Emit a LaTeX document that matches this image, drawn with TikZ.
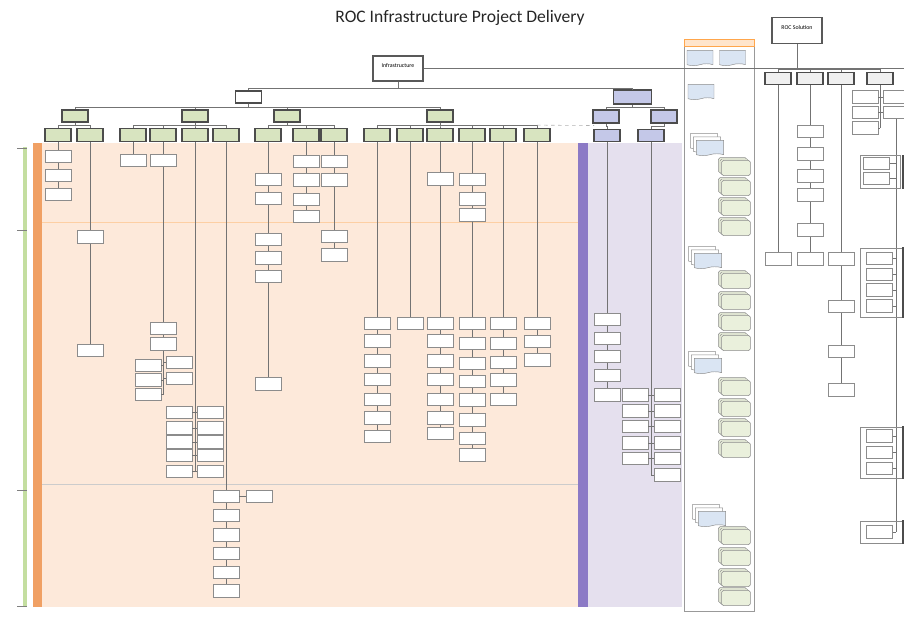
\documentclass[tikz,border=0pt]{standalone}
\usepackage{fontspec}
\setmainfont{Carlito}
\usepackage{xcolor}
\definecolor{rocpeach}{RGB}{253,233,218}
\definecolor{rocorange}{RGB}{240,160,100}
\definecolor{roclime}{RGB}{216,228,192}
\definecolor{rocsvc}{RGB}{196,200,232}
\definecolor{roclilac}{RGB}{229,224,238}
\definecolor{rocviolet}{RGB}{140,122,198}
\definecolor{rocblue}{RGB}{218,229,243}
\definecolor{rocsage}{RGB}{234,240,220}
\definecolor{rocgreen}{RGB}{196,222,160}
\usepackage{tikz}
\usetikzlibrary{shapes.symbols,shadows,positioning}

\begin{document}
\begin{tikzpicture}[x=0.03cm, y=-0.03cm,
    leaf/.style={rectangle, draw=black!45, fill=white, line width=0.6pt,
                 minimum width=0.78cm, minimum height=0.38cm, inner sep=0pt},
    hdr/.style={rectangle, draw=black!70, fill=roclime, line width=0.9pt,
                minimum width=0.78cm, minimum height=0.38cm, inner sep=0pt},
    svc/.style={hdr, fill=rocsvc},
    rocbox/.style={hdr, fill=black!6},
    rootbox/.style={rectangle, draw=black!65, fill=white, line width=1pt,
                    minimum width=1.5cm, minimum height=0.75cm, text depth=0.2cm,
                    font=\fontsize{5}{6}\selectfont},
    link/.style={draw=black!55, line width=0.5pt},
    doc/.style={tape, tape bend top=none, tape bend height=1.6pt, draw=black!45, fill=rocblue,
                minimum width=0.78cm, minimum height=0.46cm, inner sep=0pt},
    mdoc/.style={doc, minimum width=0.82cm,
                 copy shadow={shadow xshift=-0.18cm, shadow yshift=0.2cm, draw=black!45, fill=white},
                 copy shadow={shadow xshift=-0.09cm, shadow yshift=0.1cm, draw=black!45, fill=white}},
    pile/.style={rectangle, rounded corners=1.5pt, draw=black!45, fill=rocsage,
                 minimum width=0.86cm, minimum height=0.46cm, inner sep=0pt,
                 copy shadow={shadow xshift=-0.1cm, shadow yshift=0.08cm, draw=black!45, fill=rocsage},
                 copy shadow={shadow xshift=-0.05cm, shadow yshift=0.04cm, draw=black!45, fill=rocsage}}
  ]
  \useasboundingbox (0,0) rectangle (904,631);

  % bands behind the tree
  \fill[rocpeach] (42,143) rectangle (578,607);
  \fill[rocorange] (33,143) rectangle (42,607);
  \fill[rocviolet] (578,143) rectangle (588,607);
  \fill[roclilac] (588,143) rectangle (682,607);
  \draw[rocpeach!75!orange, line width=0.4pt] (42,222) -- (578,222);
  \draw[black!20, line width=0.4pt] (42,484.5) -- (578,484.5);
  \fill[rocgreen] (23,147) rectangle (27,607);
  \foreach \y in {148,230,490,606}
    \draw[black!50, line width=0.4pt] (17,\y) -- (27,\y);

  % side panel
  \draw[black!40, fill=white, line width=0.5pt] (684,39) rectangle (754,611);
  \draw[orange!70, fill=orange!20, line width=0.5pt] (684,39) rectangle (754,46);

  % title and roots
  \node[font=\fontsize{15}{18}\selectfont, text=black!85] (title) at (460,18) {ROC Infrastructure Project Delivery};
  \node[rootbox] (infra) at (398,68.5) {Infrastructure};
  \node[rootbox, minimum height=0.78cm] (rocsol) at (797,30.5) {ROC Solution};
  \node[hdr, fill=white, minimum height=0.36cm] (prop) at (248.5,97) {};
  \node[svc, minimum width=1.15cm, minimum height=0.42cm] (svcm) at (632.5,97) {};
  \draw[link] (infra.south) -- ++(0,7) -| (prop.north);
  \draw[link] (infra.south) -- ++(0,7) -| (svcm.north);
  \coordinate (rocedge) at (904,68.5);
  \draw[link] (infra.east) -- (rocedge);

  % second row
  \foreach \x in {75,195,287,440} {
    \node[hdr, minimum height=0.36cm] (p\x) at (\x,116) {};
    \draw[link] (prop.south) -- ++(0,4) -| (p\x.north);
  }
  \foreach \x in {606,664} {
    \node[svc, minimum height=0.39cm] (s\x) at (\x,116.5) {};
    \draw[link] (svcm.south) -- ++(0,2.5) -| (s\x.north);
  }

  % third row
  \foreach \p/\x in {75/58, 75/90, 195/133, 195/163, 195/195, 195/226,
                     287/268, 287/306, 287/334, 440/377, 440/410, 440/440,
                     440/472, 440/503, 440/537} {
    \node[hdr] (c\x-0) at (\x,135) {};
    \draw[link] (p\p.south) -- ++(0,3) -| (c\x-0.north);
  }
  \foreach \p/\x in {606/607, 664/651} {
    \node[svc] (c\x-0) at (\x,135.5) {};
    \draw[link] (s\p.south) -- ++(0,3) -| (c\x-0.north);
  }
  \coordinate (svcjoin) at (594,125.5);
  \draw[link, black!30, dashed] (c537-0.north) ++(0,-3) -- (svcjoin);

  % ROC solution row
  \foreach \x in {778,810,841,880} {
    \node[rocbox, minimum height=0.36cm] (c\x-0) at (\x,78.5) {};
    \draw[link] (rocsol.south) -- ++(0,25) -| (c\x-0.north);
  }

  % columns of leaves
  \foreach \x/\ys in {
      58/{156.5,175.5,194.5}, 90/{237,350.5}, 133/{160.5},
      163/{160.5,328.5,344}, 226/{496.5,515.5,535,553.5,572.5,591},
      268/{179.5,198.5,239.5,258,276.5,384}, 306/{161.5,180,199.5,216.5},
      334/{161.5,180,236.5,255}, 377/{323.5,341,361,379.5,399.5,418,436.5},
      410/{323.5}, 440/{179,323.5,341,361,379.5,399.5,418,433.5},
      472/{179.5,199,215,323.5,343.5,363.5,381.5,400,420,438.5,455},
      503/{323.5,343.5,362.5,380,399.5}, 537/{323.5,341.5,360},
      607/{319.5,338.5,356.5,375.5,395},
      778/{259}, 810/{131.5,154,176,195,230,259}, 841/{259,306.5,351.5,390}} {
    \foreach \y [count=\i, evaluate=\i as \j using int(\i-1)] in \ys {
      \node[leaf] (c\x-\i) at (\x,\y) {};
      \draw[link] (c\x-\j) -- (c\x-\i);
    }
  }
  \node[leaf] (k226-1) at (259,496.5) {};
  \draw[link] (c226-1) -- (k226-1);

  % side clusters
  \coordinate (c163-end) at (163,395);
  \draw[link] (c163-3) -- (c163-end);
  \foreach \x/\y [count=\i] in {148/365.5, 148/380, 148/394.5, 179/362.5, 179/378.5} {
    \node[leaf] (k163-\i) at (\x,\y) {};
    \draw[link] (k163-\i) -- (k163-\i -| c163-end);
  }
  \coordinate (c195-end) at (195,471.5);
  \draw[link] (c195-0) -- (c195-end);
  \foreach \x/\y [count=\i] in {179/412.5, 179/428, 179/442, 179/455.5, 179/471.5,
                                210/412.5, 210/428, 210/442, 210/455.5, 210/471.5} {
    \node[leaf] (k195-\i) at (\x,\y) {};
    \draw[link] (k195-\i) -- (k195-\i -| c195-end);
  }
  \coordinate (c651-end) at (651,475);
  \draw[link] (c651-0) -- (c651-end);
  \foreach \x/\y [count=\i] in {635/395, 635/411, 635/426.5, 635/443, 635/458.5,
                                667/395, 667/411, 667/426.5, 667/443, 667/458.5, 667/475} {
    \node[leaf] (k651-\i) at (\x,\y) {};
    \draw[link] (k651-\i) -- (k651-\i -| c651-end);
  }
  \coordinate (c880-end) at (880,128);
  \draw[link] (c880-0) -- (c880-end);
  \foreach \x/\y [count=\i] in {865/97, 865/112.5, 865/128, 896/97, 896/112.5} {
    \node[leaf] (k880-\i) at (\x,\y) {};
    \draw[link] (k880-\i) -- (k880-\i -| c880-end);
  }

  % grouped boxes on the far right
  \coordinate (g-end) at (896,532);
  \draw[link] (k880-5) -- (g-end);
  \draw[black!45, line width=0.6pt] (860,155) rectangle (900,188);
  \draw[black!45, line width=0.6pt] (860,248) rectangle (902,317);
  \draw[black!45, line width=0.6pt] (860,427) rectangle (902,478);
  \draw[black!45, line width=0.6pt] (860,521) rectangle (902,543);
  \foreach \x/\y [count=\i] in {876.5/163.5, 876.5/178.5, 879.5/258.5, 879.5/274.5,
                                879.5/290, 879.5/306, 879.5/436, 879.5/452.5,
                                879.5/468.5, 879.5/532} {
    \node[leaf] (g\i) at (\x,\y) {};
    \draw[link] (g\i) -- (g\i -| g-end);
  }
  \foreach \y/\h [count=\i] in {172/1.0, 282.5/2.07, 452.5/1.53, 532/0.66}
    \node[rocbox, minimum height=\h cm] (edge\i) at (916,\y) {};

  % documents in the side panel
  \node[doc] (d1) at (700,57) {};
  \node[doc] (d2) at (732.5,57) {};
  \node[doc] (d3) at (701,91) {};
  \foreach \x/\y [count=\i] in {710/147, 708/260, 708/365, 712/518}
    \node[mdoc] (m\i) at (\x,\y) {};
  \foreach \ys [count=\g] in {{168,188,208,228},{281,302,323,343},
                              {388,409,429,450},{537,558,579,598}}
    \foreach \y [count=\i] in \ys
      \node[pile] (pile\g-\i) at (736,\y) {};
\end{tikzpicture}
\end{document}
